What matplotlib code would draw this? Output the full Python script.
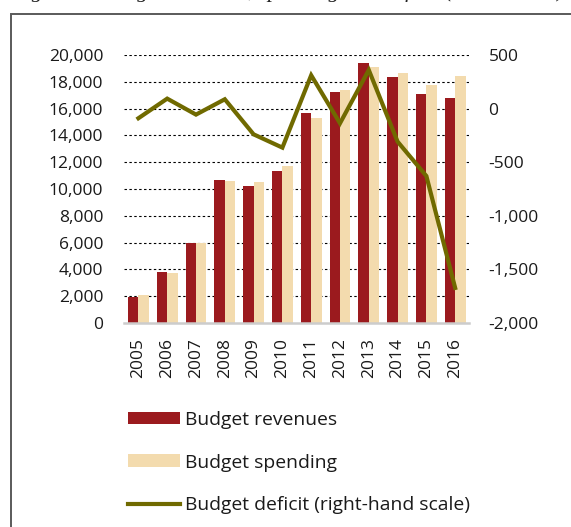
import matplotlib
matplotlib.use("Agg")
import matplotlib.pyplot as plt
from matplotlib.patches import Rectangle, Patch
from matplotlib.lines import Line2D
import numpy as np

plt.rcParams['font.family'] = ['Open Sans', 'DejaVu Sans']

years = ["2005", "2006", "2007", "2008", "2009", "2010",
         "2011", "2012", "2013", "2014", "2015", "2016"]
revenues = [1960, 3800, 5950, 10700, 10250, 11320,
            15650, 17220, 19430, 18330, 17090, 16770]
spending = [2070, 3710, 6000, 10600, 10500, 11690,
            15320, 17370, 19100, 18650, 17740, 18450]
deficit = [-90, 93, -56, 87, -240, -364,
           311, -137, 360, -308, -629, -1673]
left_ticks = list(range(0, 20001, 2000))
right_ticks = [500, 0, -500, -1000, -1500, -2000]

C_REV = "#9b1a1e"
C_SPEND = "#f3dbae"
C_LINE = "#706a00"

W, H = 571, 527
fig = plt.figure(figsize=(W / 100, H / 100), dpi=100)

# title fragment at the very top (mostly cut off, as in the reference)
fig.text(12 / W, 1.0 + 3.5 / H, "Figure 2: Budget revenues, spending and deficit (RSD billion)",
         family="Liberation Serif", style="italic", fontsize=16,
         ha="left", va="baseline", color="#222222")

# frame
fig.patches.append(Rectangle((10.5 / W, -0.1), 1.2, 1.1 - 13.5 / H,
                             transform=fig.transFigure, fill=False,
                             edgecolor="#5a5a5a", linewidth=1.4))

ax = fig.add_axes([124 / W, (H - 323) / H, (469 - 124) / W, (323 - 55) / H])
x = np.arange(len(years))
bw = 0.36
ax.bar(x - bw / 2, revenues, width=bw, color=C_REV, zorder=3)
ax.bar(x + bw / 2, spending, width=bw, color=C_SPEND, zorder=3)
ax.set_xlim(-0.5, 11.48)
ax.set_ylim(0, 20000)
ax.set_yticks(left_ticks)
ax.set_yticklabels([f"{v:,}" for v in left_ticks])
ax.set_xticks(x)
ax.set_xticklabels(years, rotation=90)
for v in left_ticks[1:]:
    ax.axhline(v, color="black", linewidth=0.8, linestyle=(0, (2.2, 2.2)), zorder=1)
for s in ["top", "right", "left"]:
    ax.spines[s].set_visible(False)
ax.spines["bottom"].set_color("#cccccc")
ax.spines["bottom"].set_linewidth(1.8)
ax.spines["bottom"].set_zorder(4)
ax.tick_params(axis="y", length=0, pad=15, labelsize=12.5, labelcolor="#1a1a1a")
ax.tick_params(axis="x", length=0, pad=11, labelsize=12.5, labelcolor="#1a1a1a")

ax2 = ax.twinx()
ax2.plot(x, deficit, color=C_LINE, linewidth=3, zorder=5, solid_joinstyle="miter")
ax2.set_ylim(-2000, 500)
ax2.set_yticks(right_ticks)
ax2.set_yticklabels([f"{v:,}" for v in right_ticks])
for s in ["top", "right", "left", "bottom"]:
    ax2.spines[s].set_visible(False)
ax2.tick_params(axis="y", length=0, pad=14, labelsize=12.5, labelcolor="#1a1a1a")

handles = [Patch(facecolor=C_REV, edgecolor="none"),
           Patch(facecolor=C_SPEND, edgecolor="none"),
           Line2D([0], [0], color=C_LINE, linewidth=3)]
labels = ["Budget revenues", "Budget spending", "Budget deficit (right-hand scale)"]
fig.legend(handles, labels, loc="upper left", bbox_to_anchor=(128 / W, (H - 411) / H),
           frameon=False, fontsize=13.9, handlelength=2.7, handleheight=0.62,
           handletextpad=0.25, labelspacing=1.27, borderpad=0, borderaxespad=0,
           labelcolor="#1a1a1a")

fig.savefig("out.png", dpi=100)
